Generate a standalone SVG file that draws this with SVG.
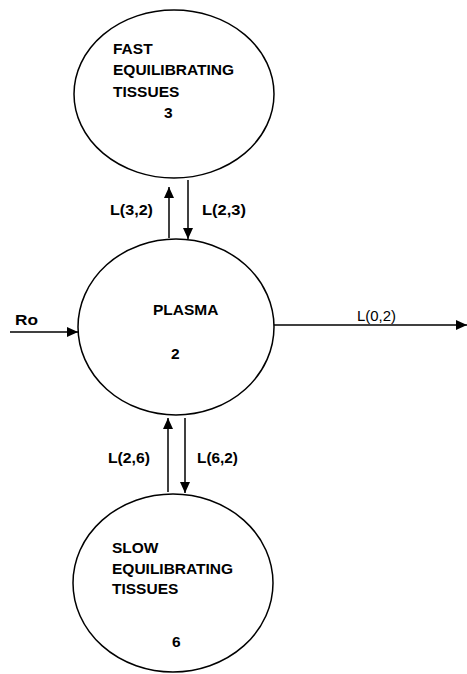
<svg xmlns="http://www.w3.org/2000/svg" width="467" height="674" viewBox="0 0 467 674">
  <defs>
    <marker id="head" viewBox="0 0 11 10" refX="11" refY="5" markerWidth="11" markerHeight="10" markerUnits="userSpaceOnUse" orient="auto">
      <path d="M0,0 L11,5 L0,10 Z" fill="#000"/>
    </marker>
  </defs>
  <style>
    .pool { fill: #fff; stroke: #000; stroke-width: 1.5; }
    .name { font-family: "Liberation Sans", Arial, sans-serif; font-weight: bold; font-size: 15.5px; fill: #000; }
    .rate { font-family: "Liberation Sans", Arial, sans-serif; font-weight: bold; font-size: 15px; fill: #000; }
    .out { font-family: "Liberation Sans", Arial, sans-serif; font-size: 14.5px; fill: #000; }
    .flow { stroke: #000; stroke-width: 1.5; fill: none; marker-end: url(#head); }
  </style>
  <rect width="467" height="674" fill="#fff"/>

  <!-- compartment 3: fast equilibrating tissues -->
  <g id="node-fast">
    <ellipse class="pool" cx="174" cy="94" rx="100" ry="84"/>
    <text class="name" x="113" y="54">FAST</text>
    <text class="name" x="113" y="75">EQUILIBRATING</text>
    <text class="name" x="113" y="97">TISSUES</text>
    <text class="name" x="164" y="118">3</text>
  </g>

  <!-- compartment 2: plasma -->
  <g id="node-plasma">
    <ellipse class="pool" cx="176" cy="327" rx="98" ry="88"/>
    <text class="name" x="153" y="315">PLASMA</text>
    <text class="name" x="171" y="359">2</text>
  </g>

  <!-- compartment 6: slow equilibrating tissues -->
  <g id="node-slow">
    <ellipse class="pool" cx="173" cy="583" rx="100" ry="89"/>
    <text class="name" x="112" y="553">SLOW</text>
    <text class="name" x="112" y="574">EQUILIBRATING</text>
    <text class="name" x="112" y="594">TISSUES</text>
    <text class="name" x="172" y="647">6</text>
  </g>

  <!-- transfer arrows and rate labels -->
  <g id="connectors">
    <line class="flow" x1="10" y1="332" x2="78" y2="332"/>
    <text class="name" x="15" y="325" textLength="23" lengthAdjust="spacingAndGlyphs">Ro</text>

    <line class="flow" x1="274" y1="325" x2="467" y2="325"/>
    <text class="out" x="357" y="321" textLength="39" lengthAdjust="spacingAndGlyphs">L(0,2)</text>

    <line class="flow" x1="169" y1="238" x2="169" y2="187"/>
    <line class="flow" x1="188" y1="180" x2="188" y2="239"/>
    <text class="rate" x="110" y="215" textLength="43" lengthAdjust="spacingAndGlyphs">L(3,2)</text>
    <text class="rate" x="202" y="215" textLength="44" lengthAdjust="spacingAndGlyphs">L(2,3)</text>

    <line class="flow" x1="168" y1="492" x2="168" y2="418"/>
    <line class="flow" x1="185" y1="418" x2="185" y2="493"/>
    <text class="rate" x="108" y="463" textLength="42" lengthAdjust="spacingAndGlyphs">L(2,6)</text>
    <text class="rate" x="197" y="463" textLength="41" lengthAdjust="spacingAndGlyphs">L(6,2)</text>
  </g>
</svg>
